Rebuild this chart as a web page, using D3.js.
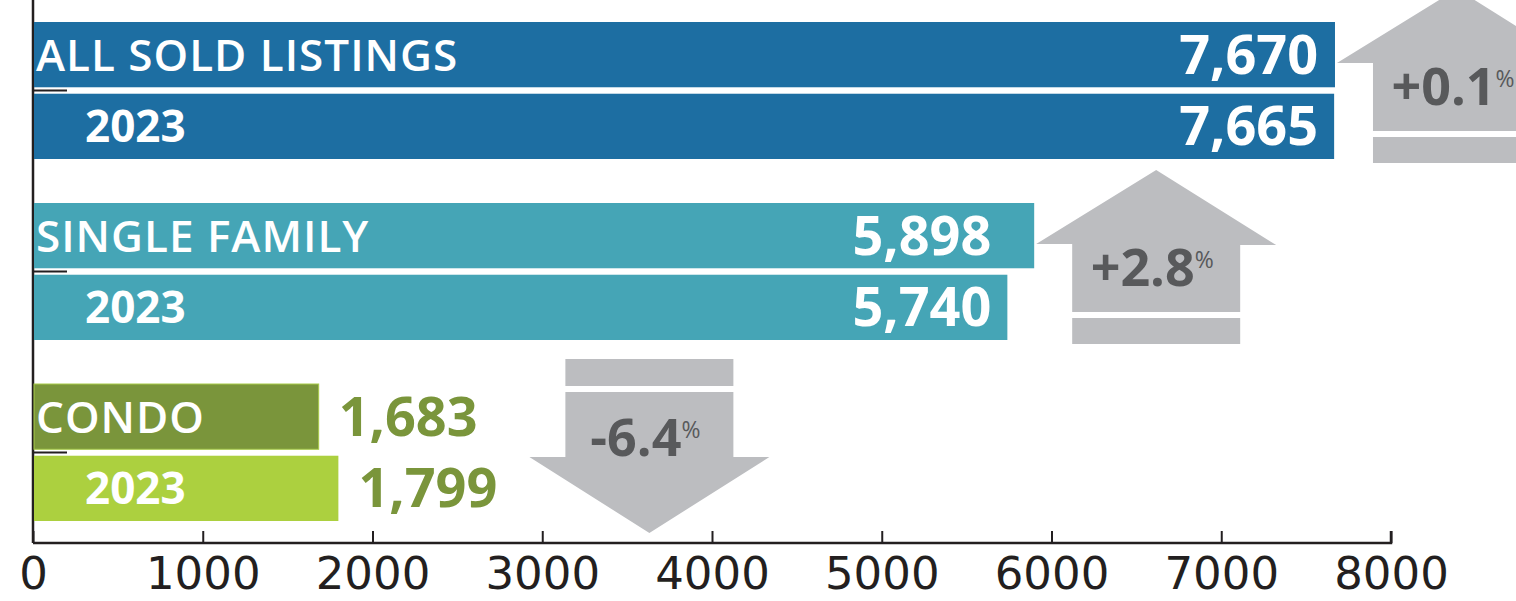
<!DOCTYPE html>
<html>
<head>
<meta charset="utf-8">
<script src="https://cdn.jsdelivr.net/npm/d3@7"></script>
<style>
    html, body { margin: 0; padding: 0; background: #ffffff; }
    svg { display: block; }
</style>
</head>
<body>
<svg id="chart"></svg>
<script>
// chart values
const categories = ["ALL SOLD LISTINGS", "SINGLE FAMILY", "CONDO"];
const series = ["current", "2023"];
const currentValues = [7670, 5898, 1683];
const previousValues = [7665, 5740, 1799];
const xTicks = [0, 1000, 2000, 3000, 4000, 5000, 6000, 7000, 8000];

// colours per category: [current bar, 2023 bar]
const barColors = [["#1d6ea2", "#1d6ea2"], ["#45a5b6", "#45a5b6"], ["#7a953b", "#acd03f"]];

document.addEventListener("DOMContentLoaded", function () {
    const width = 1516, height = 601;
    const font = "'Open Sans', 'DejaVu Sans', sans-serif";

    const svg = d3.select("#chart")
        .attr("width", width)
        .attr("height", height);

    const x = d3.scaleLinear()
        .domain([0, 8000])
        .range([33, 1391]);

    // one band per category, two bars inside each band
    const y = d3.scaleBand()
        .domain(categories)
        .range([0, 543]);

    const yInner = d3.scaleBand()
        .domain(series)
        .range([22, y.bandwidth() - 22])
        .paddingInner(0.09);

    const rows = categories.map((c, i) => ({
        category: c,
        index: i,
        values: [currentValues[i], previousValues[i]],
        change: (currentValues[i] - previousValues[i]) / previousValues[i] * 100
    }));

    // axes first so the bars sit on top of the small left ticks
    const axisColor = "#231f20";

    const xAxis = svg.append("g")
        .attr("transform", `translate(0,543)`)
        .call(d3.axisTop(x).tickValues(xTicks).tickSize(12).tickFormat(d3.format("d")));
    xAxis.select(".domain").attr("stroke", axisColor).attr("stroke-width", 2.5)
        .attr("d", `M${x(0)},0H${x(8000)}V-12`);
    xAxis.selectAll(".tick line").attr("stroke", axisColor).attr("stroke-width", 2);
    xAxis.selectAll(".tick text")
        .attr("y", 46)
        .attr("dy", 0)
        .attr("fill", axisColor)
        .style("font-family", "'DejaVu Sans', sans-serif")
        .style("font-size", "45px");

    const yAxis = svg.append("g")
        .attr("transform", `translate(${x(0)},0)`)
        .call(d3.axisRight(y).tickSize(34).tickFormat(""));
    yAxis.select(".domain").attr("stroke", axisColor).attr("stroke-width", 2.5)
        .attr("d", "M0,0V543");
    yAxis.selectAll(".tick line").attr("stroke", axisColor).attr("stroke-width", 2);

    const groups = svg.selectAll("g.group")
        .data(rows)
        .join("g")
        .attr("class", "group")
        .attr("transform", d => `translate(0,${y(d.category)})`);

    groups.selectAll("rect.bar")
        .data(d => d.values.map((v, j) => ({ value: v, key: series[j], row: d.index, j: j })))
        .join("rect")
        .attr("class", "bar")
        .attr("x", x(0) + 1)
        .attr("y", d => yInner(d.key))
        .attr("width", d => x(d.value) - x(0) - 1)
        .attr("height", yInner.bandwidth())
        .attr("fill", d => barColors[d.row][d.j])
        .attr("stroke", d => (d.row === 2 && d.j === 0) ? "#a8cb48" : null)
        .attr("stroke-width", 1);

    // category name / year labels inside the bars
    groups.selectAll("text.name")
        .data(d => [
            { text: d.category, key: series[0], x: x(0) + 3, weight: 600, spacing: 1 },
            { text: "2023", key: series[1], x: x(0) + 52, weight: 700, spacing: 0 }
        ])
        .join("text")
        .attr("class", "name")
        .attr("x", d => d.x)
        .attr("y", d => yInner(d.key) + yInner.bandwidth() / 2 + 16)
        .attr("fill", "#ffffff")
        .style("font-family", font)
        .style("font-weight", d => d.weight)
        .style("letter-spacing", d => d.spacing + "px")
        .style("font-size", "44px")
        .text(d => d.text);

    // value labels: inside at the right end of the shorter bar, or outside for short bars
    groups.selectAll("text.value")
        .data(d => d.values.map((v, j) => ({ value: v, key: series[j], row: d.index, min: d3.min(d.values) })))
        .join("text")
        .attr("class", "value")
        .attr("x", d => d.value > 4000 ? x(d.min) - 16 : x(d.value) + 20)
        .attr("y", d => yInner(d.key) + yInner.bandwidth() / 2 + 19)
        .attr("text-anchor", d => d.value > 4000 ? "end" : "start")
        .attr("fill", d => d.value > 4000 ? "#ffffff" : "#7a953b")
        .style("font-family", font)
        .style("font-weight", 700)
        .style("font-size", "54px")
        .text(d => d3.format(",")(d.value));

    // change arrows
    const arrowGray = "#bcbdc0";
    const arrows = groups.append("g").attr("class", "arrow");

    arrows.each(function (d) {
        const g = d3.select(this);
        const up = d.change >= 0;
        const maxX = x(d3.max(d.values));
        const cx = up ? maxX + 122 : maxX + 311;
        const hw = 84, headW = 120;
        let labelY;

        if (up) {
            const hb = 63;
            g.append("path")
                .attr("d", `M${cx},${hb - 74}L${cx + headW},${hb + 1}L${cx + hw},${hb + 1}L${cx + hw},${hb + 68}` +
                    `L${cx - hw},${hb + 68}L${cx - hw},${hb}L${cx - headW},${hb}Z`)
                .attr("fill", arrowGray);
            g.append("rect")
                .attr("x", cx - hw).attr("y", hb + 74)
                .attr("width", hw * 2).attr("height", 26)
                .attr("fill", arrowGray);
            labelY = hb + 42;
        } else {
            const top = -3;
            g.append("rect")
                .attr("x", cx - hw).attr("y", top)
                .attr("width", hw * 2).attr("height", 27)
                .attr("fill", arrowGray);
            g.append("path")
                .attr("d", `M${cx - hw},${top + 33}L${cx + hw},${top + 33}L${cx + hw},${top + 98}L${cx + headW},${top + 98}` +
                    `L${cx},${top + 174}L${cx - headW},${top + 98}L${cx - hw},${top + 98}Z`)
                .attr("fill", arrowGray);
            labelY = top + 97;
        }

        const label = g.append("text")
            .attr("x", cx - 4)
            .attr("y", labelY)
            .attr("text-anchor", "middle")
            .attr("fill", "#58595b")
            .style("font-family", font)
            .style("font-weight", 700)
            .style("font-size", "52px");
        label.append("tspan")
            .text((up ? "+" : "-") + Math.abs(d.change).toFixed(1));
        label.append("tspan")
            .attr("dy", -18)
            .style("font-size", "23px")
            .style("font-weight", 500)
            .text("%");
    });
});
</script>
</body>
</html>
